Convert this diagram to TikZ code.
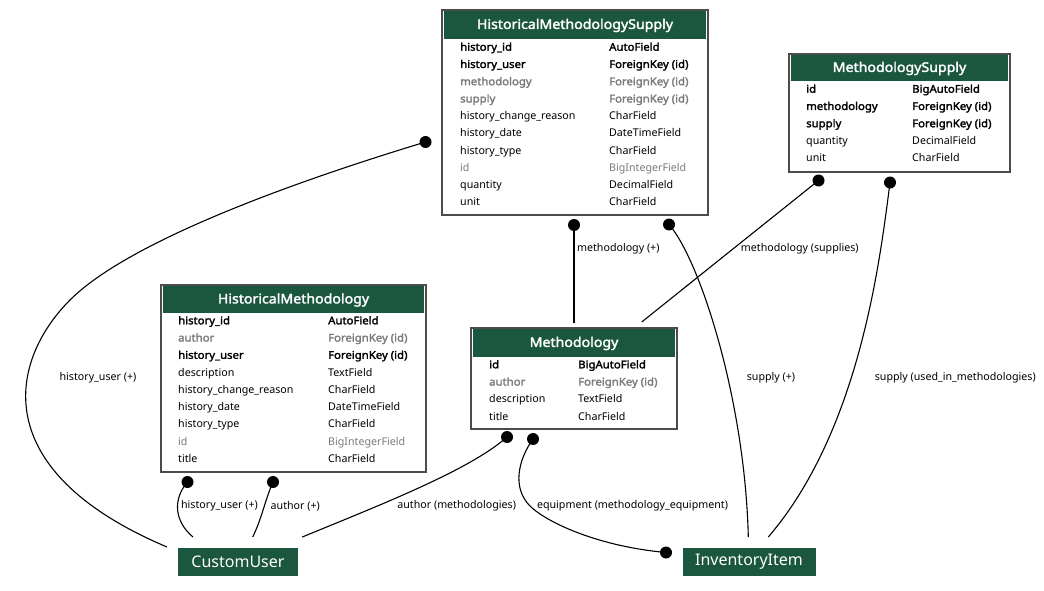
\documentclass[tikz,border=0pt]{standalone}
\usepackage{fontspec}
\setmainfont{Noto Sans}
\newfontfamily\boldsans{Noto Sans}[FakeBold=2.2, FakeStretch=1.065]
\usetikzlibrary{calc}
\definecolor{hdrgreen}{HTML}{1B563F}
\definecolor{fldgrey}{HTML}{7B7B7B}

\tikzset{
  tbl/.style={draw=black!70, line width=1.5pt, fill=white, inner sep=0},
  hdr/.style={fill=hdrgreen, text=white, inner sep=0, anchor=north,
    font=\boldsans\fontsize{13.3}{15}\selectfont},
  fld/.style={anchor=base west, inner sep=0, font=\fontsize{10.67}{12}\selectfont},
  keyfld/.style={fld, font=\boldsans\fontsize{10.67}{12}\selectfont},
  greykeyfld/.style={keyfld, text=fldgrey},
  greyfld/.style={fld, text=fldgrey},
  model/.style={fill=hdrgreen, text=white, minimum height=28, inner sep=0,
    font=\fontsize{16}{18}\selectfont},
  rel/.style={line width=1.1pt},
  dotend/.style={circle, fill, inner sep=0, minimum size=12pt},
  lbl/.style={inner sep=0, font=\fontsize{10.67}{12}\selectfont}
}

\begin{document}
\begin{tikzpicture}[x=1pt,y=-1pt]
  \useasboundingbox (0,0) rectangle (1044,591);

  \node[tbl, minimum width=266, minimum height=205] (hms) at (575,112.5) {};
  \node[hdr, minimum width=262, minimum height=28] (hms-h) at ($(hms.north)+(0,2)$) {HistoricalMethodologySupply};
  \foreach \f/\t/\s [count=\i] in {
    history\_id/AutoField/keyfld,
    history\_user/ForeignKey (id)/keyfld,
    methodology/ForeignKey (id)/greykeyfld,
    supply/ForeignKey (id)/greykeyfld,
    history\_change\_reason/CharField/fld,
    history\_date/DateTimeField/fld,
    history\_type/CharField/fld,
    id/BigIntegerField/greyfld,
    quantity/DecimalField/fld,
    unit/CharField/fld}{
    \pgfmathsetmacro{\y}{50.7+17.25*(\i-1)}
    \node[\s] (hms-f\i) at (460,\y) {\f};
    \node[\s] (hms-t\i) at (609,\y) {\t};
  }

  \node[tbl, minimum width=221, minimum height=118] (ms) at (899.5,113) {};
  \node[hdr, minimum width=217, minimum height=26] (ms-h) at ($(ms.north)+(0,2)$) {MethodologySupply};
  \foreach \f/\t/\s [count=\i] in {
    id/BigAutoField/keyfld,
    methodology/ForeignKey (id)/keyfld,
    supply/ForeignKey (id)/keyfld,
    quantity/DecimalField/fld,
    unit/CharField/fld}{
    \pgfmathsetmacro{\y}{92.7+17.25*(\i-1)}
    \node[\s] (ms-f\i) at (806,\y) {\f};
    \node[\s] (ms-t\i) at (912,\y) {\t};
  }

  \node[tbl, minimum width=265, minimum height=187] (hm) at (293.5,378.5) {};
  \node[hdr, minimum width=261, minimum height=27] (hm-h) at ($(hm.north)+(0,2)$) {HistoricalMethodology};
  \foreach \f/\t/\s [count=\i] in {
    history\_id/AutoField/keyfld,
    author/ForeignKey (id)/greykeyfld,
    history\_user/ForeignKey (id)/keyfld,
    description/TextField/fld,
    history\_change\_reason/CharField/fld,
    history\_date/DateTimeField/fld,
    history\_type/CharField/fld,
    id/BigIntegerField/greyfld,
    title/CharField/fld}{
    \pgfmathsetmacro{\y}{324.3+17.25*(\i-1)}
    \node[\s] (hm-f\i) at (178,\y) {\f};
    \node[\s] (hm-t\i) at (328,\y) {\t};
  }

  \node[tbl, minimum width=206, minimum height=101] (meth) at (574,378.5) {};
  \node[hdr, minimum width=202, minimum height=28] (meth-h) at ($(meth.north)+(0,2)$) {Methodology};
  \foreach \f/\t/\s [count=\i] in {
    id/BigAutoField/keyfld,
    author/ForeignKey (id)/greykeyfld,
    description/TextField/fld,
    title/CharField/fld}{
    \pgfmathsetmacro{\y}{368.3+17.25*(\i-1)}
    \node[\s] (meth-f\i) at (489,\y) {\f};
    \node[\s] (meth-t\i) at (578,\y) {\t};
  }

  \node[model, minimum width=120] (cu) at (238,562) {CustomUser};
  \node[model, minimum width=133] (inv) at (749,562) {InventoryItem};

  \node[dotend] (hms-d1) at (425.5,142) {};
  \node[dotend] (hms-d2) at (574,225) {};
  \node[dotend] (hms-d3) at (669,224.5) {};
  \node[dotend] (ms-d1) at (818.5,180.5) {};
  \node[dotend] (ms-d2) at (890,182.5) {};
  \node[dotend] (hm-d1) at (187.5,482) {};
  \node[dotend] (hm-d2) at (273,482) {};
  \node[dotend] (meth-d1) at (507,437) {};
  \node[dotend] (meth-d2) at (533,439) {};
  \node[dotend] (inv-d1) at (666,552.5) {};

  \coordinate (cu-a) at (167,547);
  \coordinate (cu-b) at (193,537);
  \coordinate (cu-c) at (252.7,537);
  \coordinate (cu-d) at (302.3,537);
  \coordinate (meth-a) at (574,323.3);
  \coordinate (meth-b) at (641.7,322);
  \coordinate (inv-a) at (748.3,537);
  \coordinate (inv-b) at (768.3,537);

  \draw[rel] (hms-d1.center) .. controls (300,180) and (130,240) .. (70,300)
    .. controls (10,360) and (-15,470) .. (cu-a);
  \draw[rel] (hm-d1.center) .. controls (172,500) and (175,522) .. (cu-b);
  \draw[rel] (hm-d2.center) .. controls (265,500) and (262,518) .. (cu-c);
  \draw[rel] (meth-d1.center) .. controls (470,470) and (380,505) .. (cu-d);
  \draw[rel] (meth-d2.center) .. controls (518,460) and (512,488) .. (530,506)
    .. controls (545,521) and (595,546) .. (inv-d1.center);
  \draw[rel] (hms-d2.center) -- (meth-a);
  \draw[rel] (ms-d1.center) -- (meth-b);
  \draw[rel] (hms-d3.center) .. controls (700,260) and (745,400) .. (inv-a);
  \draw[rel] (ms-d2.center) .. controls (880,260) and (860,430) .. (inv-b);

  \node[lbl] (l-hms-user) at (98,378) {history\_user (+)};
  \node[lbl] (l-hm-user) at (219.5,506) {history\_user (+)};
  \node[lbl] (l-hm-author) at (295.3,506) {author (+)};
  \node[lbl] (l-meth-author) at (456.7,506) {author (methodologies)};
  \node[lbl] (l-meth-equip) at (632.5,506) {equipment (methodology\_equipment)};
  \node[lbl] (l-hms-meth) at (618.3,249) {methodology (+)};
  \node[lbl] (l-ms-meth) at (799.8,249) {methodology (supplies)};
  \node[lbl] (l-hms-supply) at (771,377.5) {supply (+)};
  \node[lbl] (l-ms-supply) at (955.3,377.5) {supply (used\_in\_methodologies)};
\end{tikzpicture}
\end{document}
